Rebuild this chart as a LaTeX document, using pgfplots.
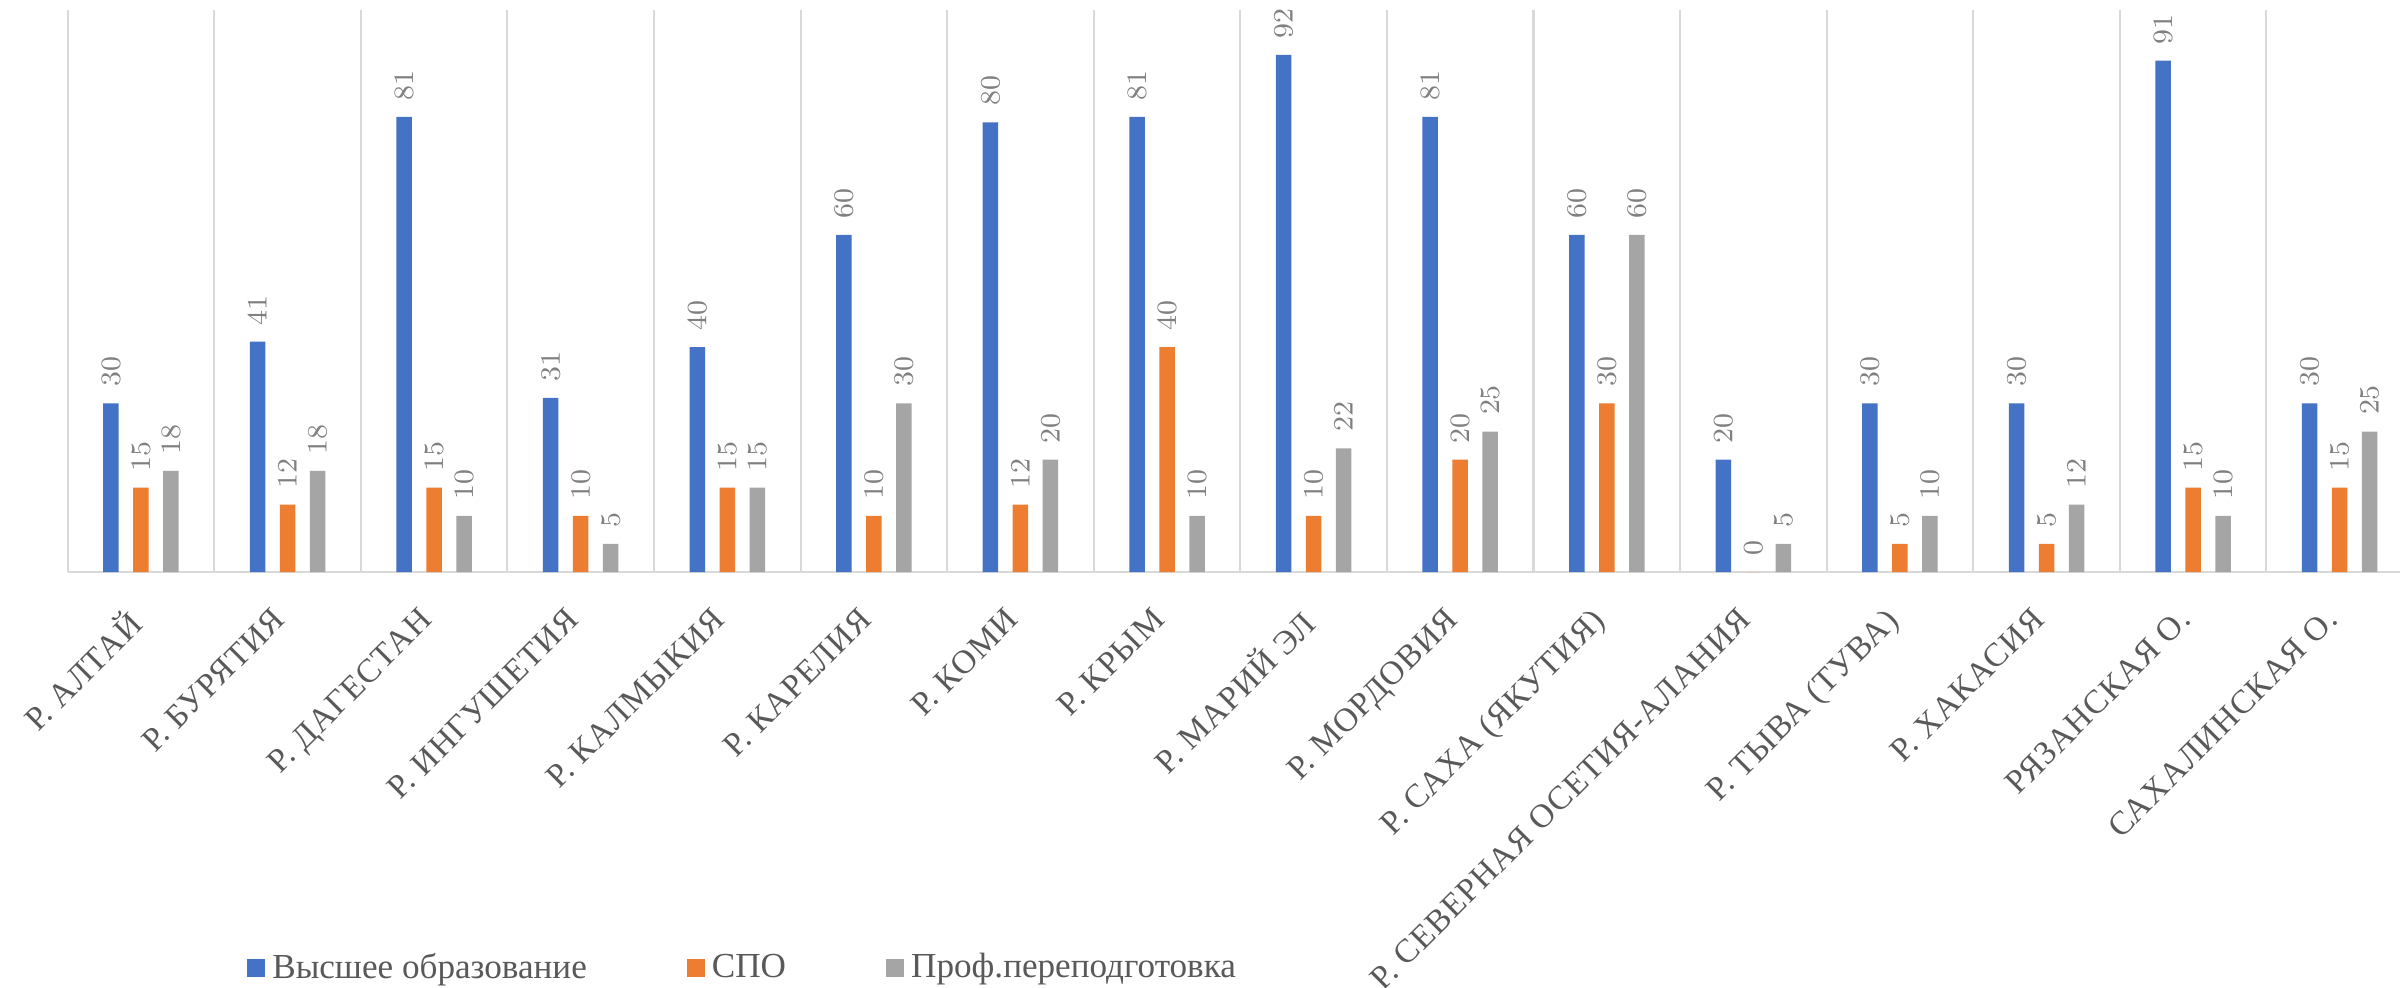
\documentclass[border=0pt]{standalone}
\usepackage{pgfplots}
\pgfplotsset{compat=1.18}
\usepackage{fontspec}
\setmainfont{Liberation Serif}

\definecolor{cblue}{HTML}{4472C4}
\definecolor{corange}{HTML}{ED7D31}
\definecolor{cgray}{HTML}{A5A5A5}
\definecolor{gridc}{HTML}{D9D9D9}
\definecolor{labc}{HTML}{595959}
\definecolor{valc}{HTML}{808080}

\begin{document}
\begin{tikzpicture}
\useasboundingbox (-0.677cm,-4.15cm) rectangle (23.323cm,5.72cm);
\begin{axis}[
    scale only axis,
    width=23.32cm, height=5.62cm,
    xmin=-0.5, xmax=15.41,
    ymin=0, ymax=100,
    ybar=0.145cm, bar width=0.155cm,
    axis y line=none,
    axis x line=bottom,
    x axis line style={draw=gridc, line width=0.6pt, -},
    xtick={0,...,15},
    xticklabels={Р. АЛТАЙ, Р. БУРЯТИЯ, Р. ДАГЕСТАН, Р. ИНГУШЕТИЯ, Р. КАЛМЫКИЯ, Р. КАРЕЛИЯ, Р. КОМИ, Р. КРЫМ, Р. МАРИЙ ЭЛ, Р. МОРДОВИЯ, Р. САХА (ЯКУТИЯ), Р. СЕВЕРНАЯ ОСЕТИЯ-АЛАНИЯ, Р. ТЫВА (ТУВА), Р. ХАКАСИЯ, РЯЗАНСКАЯ О., САХАЛИНСКАЯ О.},
    minor xtick={-0.5,0.5,...,14.5},
    xminorgrids=true,
    minor grid style={draw=gridc, line width=0.6pt},
    major tick length=0pt, minor tick length=0pt,
    xticklabel style={rotate=45, anchor=north east, font=\fontsize{9.5}{11}\selectfont\addfontfeature{LetterSpace=3}, text=labc, yshift=-0.12cm, xshift=-0.35cm, inner sep=0pt},
    nodes near coords,
    every node near coord/.append style={rotate=90, anchor=west, font=\fontsize{8.5}{10}\selectfont, text=valc, inner sep=4.5pt},
    legend columns=3,
    legend style={at={(axis description cs:0.2905,-0.705)}, anchor=center, draw=none, font=\fontsize{10}{12}\selectfont, text=labc, /tikz/every even column/.append style={column sep=0.93cm}},
    legend image code/.code={\fill[#1] (0cm,-0.09cm) rectangle (0.18cm,0.09cm);},
    clip=false,
]
\addplot[fill=cblue, draw=none] coordinates {(0,30) (1,41) (2,81) (3,31) (4,40) (5,60) (6,80) (7,81) (8,92) (9,81) (10,60) (11,20) (12,30) (13,30) (14,91) (15,30)};
\addplot[fill=corange, draw=none] coordinates {(0,15) (1,12) (2,15) (3,10) (4,15) (5,10) (6,12) (7,40) (8,10) (9,20) (10,30) (11,0) (12,5) (13,5) (14,15) (15,15)};
\addplot[fill=cgray, draw=none] coordinates {(0,18) (1,18) (2,10) (3,5) (4,15) (5,30) (6,20) (7,10) (8,22) (9,25) (10,60) (11,5) (12,10) (13,12) (14,10) (15,25)};
\legend{Высшее образование, СПО, Проф.переподготовка}
\end{axis}
\end{tikzpicture}
\end{document}
